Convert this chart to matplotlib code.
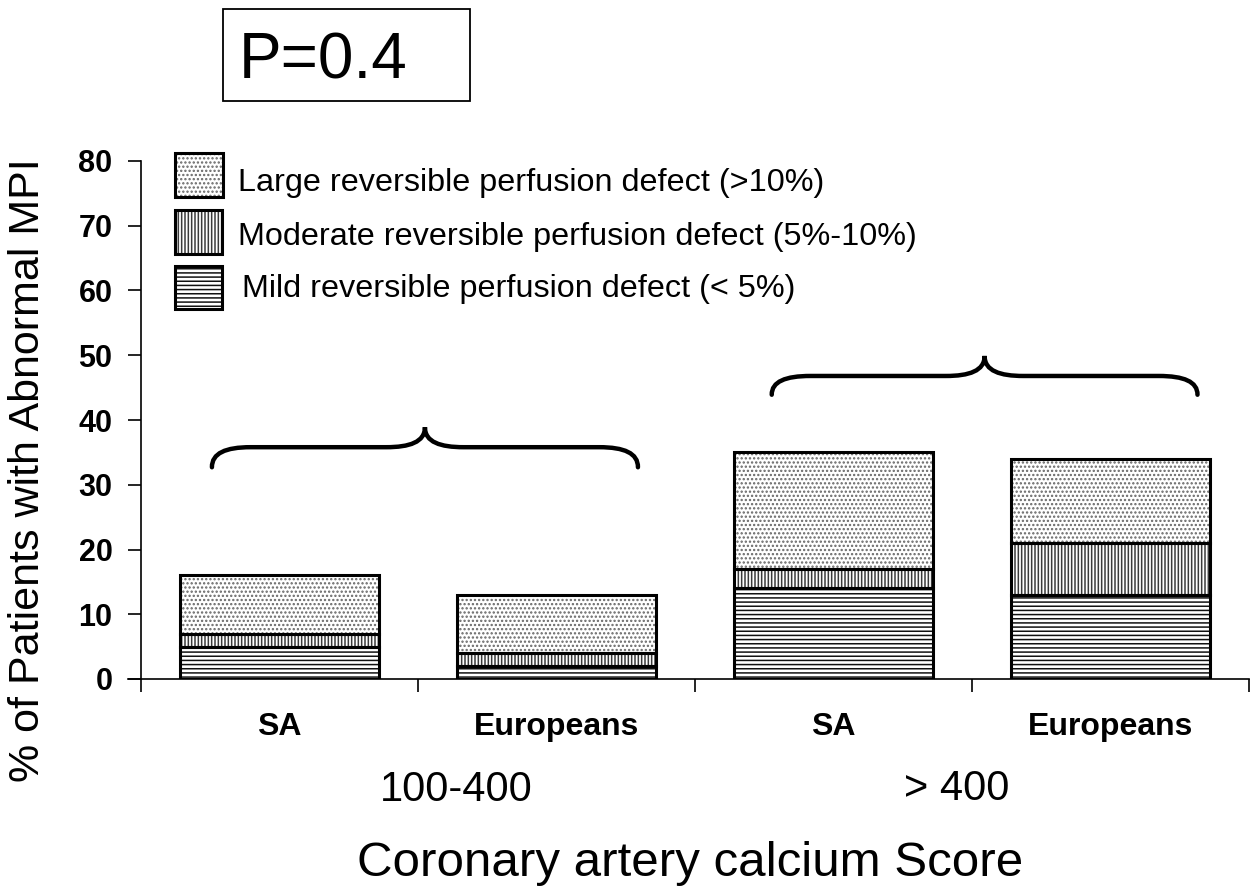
import numpy as np
import matplotlib
matplotlib.use("Agg")
import matplotlib.pyplot as plt
from matplotlib.patches import Rectangle, PathPatch
from matplotlib.path import Path

plt.rcParams['font.family'] = ['Liberation Sans', 'DejaVu Sans']
plt.rcParams['hatch.linewidth'] = 1.1

# ---- data ----
bar_labels = ['SA', 'Europeans', 'SA', 'Europeans']
group_labels = ['100-400', '> 400']
mild = [5, 2, 14, 13]          # Mild reversible perfusion defect (<5%)
moderate = [2, 2, 3, 8]        # Moderate reversible perfusion defect (5%-10%)
large = [9, 9, 18, 13]         # Large reversible perfusion defect (>10%)
series_names = ['Large reversible perfusion defect (>10%)',
                'Moderate reversible perfusion defect (5%-10%)',
                'Mild reversible perfusion defect (< 5%)']
yticks = [0, 10, 20, 30, 40, 50, 60, 70, 80]
p_text = 'P=0.4'

W, H = 1257, 889
fig = plt.figure(figsize=(W / 100, H / 100), dpi=100)
ax = fig.add_axes([128 / W, 1 - 679 / H, (1249 - 128) / W, (679 - 161) / H])

x = np.arange(len(bar_labels))
width = 0.72
mild_a = np.array(mild)
mod_a = np.array(moderate)
large_a = np.array(large)

HC_MILD, HC_MOD, HC_LARGE = '#111111', '#3a3a3a', '#666666'
H_MILD, H_MOD, H_LARGE = '----', '|||||', '....'
segs = [
    (mild_a, np.zeros_like(mild_a), H_MILD, HC_MILD),
    (mod_a, mild_a, H_MOD, HC_MOD),
    (large_a, mild_a + mod_a, H_LARGE, HC_LARGE),
]
for vals, bottom, hatch, hc in segs:
    ax.bar(x, vals, width, bottom=bottom, color='white', edgecolor=hc,
           hatch=hatch, linewidth=0, zorder=2)
    ax.bar(x, vals, width, bottom=bottom, fill=False, edgecolor='black',
           linewidth=2.2, zorder=3)

ax.set_ylim(0, 80)
ax.set_xlim(-0.547, 3.5)
ax.spines['top'].set_visible(False)
ax.spines['right'].set_visible(False)
ax.spines['left'].set_position(('data', -0.5))
ax.spines['left'].set_linewidth(1.2)
ax.spines['bottom'].set_linewidth(1.2)

ax.set_yticks(yticks)
ax.set_yticklabels([str(v) for v in yticks], fontsize=22, fontweight='bold')
ax.tick_params(axis='y', direction='out', length=9.5, width=1.2, pad=11)

ax.set_xticks(np.arange(-0.5, len(bar_labels), 1.0))
ax.set_xticklabels([])
ax.tick_params(axis='x', which='major', direction='out', length=9, width=1.2)
ax.set_xticks(x, minor=True)
ax.set_xticklabels(bar_labels, minor=True, fontsize=23, fontweight='bold')
ax.tick_params(axis='x', which='minor', length=0, pad=24)

# legend (drawn as key boxes + labels, in figure pixels)
legend_boxes = [(175, 153, 48, 44), (175, 210, 47, 44), (175, 266, 47, 43)]
legend_text_pos = [(238, 183), (238, 237), (242, 289)]
legend_styles = [(H_LARGE, HC_LARGE), (H_MOD, HC_MOD), (H_MILD, HC_MILD)]
for (bx, by, bw, bh), (tx, ty), (hatch, hc), name in zip(
        legend_boxes, legend_text_pos, legend_styles, series_names):
    rect_xy = (bx / W, 1 - (by + bh) / H)
    fig.patches.append(Rectangle(rect_xy, bw / W, bh / H, transform=fig.transFigure,
                                 facecolor='white', edgecolor=hc, hatch=hatch,
                                 linewidth=0, figure=fig))
    fig.patches.append(Rectangle(rect_xy, bw / W, bh / H, transform=fig.transFigure,
                                 fill=False, edgecolor='black', linewidth=2.2, figure=fig))
    fig.text(tx / W, 1 - ty / H, name, fontsize=23.3, ha='left', va='center')

# braces
def brace(ax, x0, x1, yb, yf, yp, w):
    xc = (x0 + x1) / 2
    verts = [
        (x0, yb),
        (x0, yb + 0.7 * (yf - yb)), (x0 + 0.35 * w, yf), (x0 + w, yf),
        (xc - w, yf),
        (xc - 0.4 * w, yf), (xc, yf + 0.25 * (yp - yf)), (xc, yp),
        (xc, yf + 0.25 * (yp - yf)), (xc + 0.4 * w, yf), (xc + w, yf),
        (x1 - w, yf),
        (x1 - 0.35 * w, yf), (x1, yb + 0.7 * (yf - yb)), (x1, yb),
    ]
    codes = [Path.MOVETO, Path.CURVE4, Path.CURVE4, Path.CURVE4, Path.LINETO,
             Path.CURVE4, Path.CURVE4, Path.CURVE4,
             Path.CURVE4, Path.CURVE4, Path.CURVE4, Path.LINETO,
             Path.CURVE4, Path.CURVE4, Path.CURVE4]
    ax.add_patch(PathPatch(Path(verts, codes), fill=False, lw=3.2,
                           edgecolor='black', capstyle='round', zorder=4))

brace(ax, -0.244, 1.294, 32.7, 35.8, 38.9, 0.14)
brace(ax, 1.777, 3.314, 43.9, 46.8, 49.9, 0.14)

# group labels and axis labels
fig.text(456 / W, 1 - 801 / H, group_labels[0], fontsize=30, ha='center', va='baseline')
fig.text(957 / W, 1 - 800 / H, group_labels[1], fontsize=30, ha='center', va='baseline')
fig.text(690 / W, 1 - 876 / H, 'Coronary artery calcium Score', fontsize=35.5,
         ha='center', va='baseline')
fig.text(28 / W, 1 - 470 / H, '% of Patients with Abnormal MPI', fontsize=31,
         rotation=90, ha='center', va='center')

# P value box
fig.patches.append(Rectangle((223 / W, 1 - 101 / H), (470 - 223) / W, (101 - 8.5) / H,
                             transform=fig.transFigure, fill=False, lw=1.3,
                             edgecolor='black', figure=fig))
fig.text(239 / W, 1 - 78.5 / H, p_text, fontsize=46, ha='left', va='baseline')

fig.savefig('out.png', dpi=100)
